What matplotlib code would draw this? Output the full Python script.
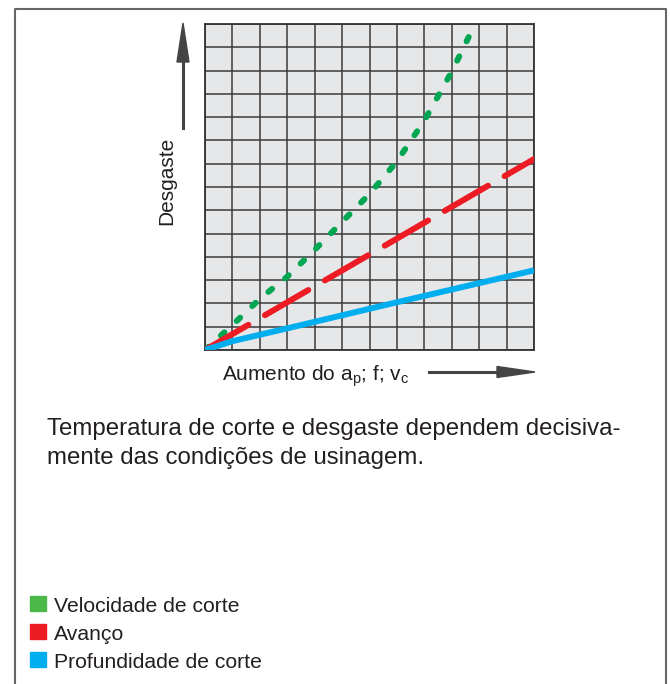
import matplotlib.pyplot as plt
from matplotlib.patches import Polygon, Rectangle
from matplotlib.lines import Line2D

plt.rcParams['font.family'] = ['Liberation Sans', 'DejaVu Sans']
plt.rcParams['mathtext.fontset'] = 'custom'
plt.rcParams['mathtext.rm'] = 'Liberation Sans'

# dados (unidades de grade: 12 colunas x 14 linhas)
x_vel = [0, 1, 2, 3, 4, 5, 6, 7, 8, 9, 9.85]
y_vel = [0, 1.07, 2.2, 3.15, 4.3, 5.5, 6.7, 8.1, 9.85, 11.95, 14.0]
x_av = [0, 12]
y_av = [0, 8.2]
x_prof = [0, 1, 3, 7, 12]
y_prof = [0, 0.38, 0.93, 2.05, 3.42]

legend_labels = ['Velocidade de corte', 'Avanço', 'Profundidade de corte']
legend_colors = ['#4cb848', '#ed1c24', '#00aeef']
texto = ['Temperatura de corte e desgaste dependem decisiva-',
         'mente das condições de usinagem.']

W, H = 670, 684
fig = plt.figure(figsize=(W / 100, H / 100), dpi=100)


def fx(px):
    return px / W


def fy(py):
    return 1 - py / H


# moldura (aberta embaixo)
fig.add_artist(Line2D([fx(15), fx(15), fx(666), fx(666)],
                      [0, fy(8.5), fy(8.5), 0], color='#666666', lw=1.5,
                      transform=fig.transFigure))

ax = fig.add_axes([fx(205), fy(350), fx(534) - fx(205), fy(24) - fy(350)])
ax.set_facecolor('#e6e7e8')
ax.set_xlim(0, 12)
ax.set_ylim(0, 14)
ax.set_xticks(range(13))
ax.set_yticks(range(15))
ax.tick_params(length=0, labelbottom=False, labelleft=False)
ax.grid(True, color='#3a3a3a', lw=1.1)
ax.set_axisbelow(True)
for s in ax.spines.values():
    s.set_color('#333333')
    s.set_linewidth(1.3)

lw = 4.3
ax.plot(x_vel, y_vel, color='#00a651', lw=lw, linestyle=(0, (0.8, 2.8)),
        dash_capstyle='round', zorder=3)
ax.plot(x_av, y_av, color='#ed1c24', lw=lw, linestyle=(0, (8.4, 3.2)),
        dash_capstyle='round', zorder=4)
ax.plot(x_prof, y_prof, color='#00aeef', lw=lw, solid_capstyle='butt', zorder=5)

# setas dos eixos
seta = '#444444'
fig.add_artist(Line2D([fx(183), fx(183)], [fy(128), fy(58)], color=seta, lw=2.2,
                      transform=fig.transFigure))
fig.add_artist(Polygon([[fx(183), fy(23)], [fx(177), fy(62)], [fx(189), fy(62)]],
                       closed=True, color=seta, transform=fig.transFigure))
fig.add_artist(Line2D([fx(429), fx(500)], [fy(372), fy(372)], color=seta, lw=2.2,
                      transform=fig.transFigure))
fig.add_artist(Polygon([[fx(535), fy(372)], [fx(497), fy(366.5)], [fx(497), fy(377.5)]],
                       closed=True, color=seta, transform=fig.transFigure))

fig.text(fx(167), fy(181), 'Desgaste', rotation=90, fontsize=15,
         ha='center', va='center', color='#231f20')
fig.text(fx(222), fy(380), r'Aumento do a$_\mathregular{p}$; f; v$_\mathregular{c}$',
         fontsize=15, ha='left', va='baseline', color='#231f20')

fig.text(fx(47), fy(435), texto[0], fontsize=17.3, ha='left', va='baseline', color='#231f20')
fig.text(fx(47), fy(464), texto[1], fontsize=17.3, ha='left', va='baseline', color='#231f20')

# legenda
for i, (lab, col) in enumerate(zip(legend_labels, legend_colors)):
    top = 596 + i * 28
    fig.add_artist(Rectangle((fx(30), fy(top + 15)), fx(16), 15 / H, color=col,
                             transform=fig.transFigure))
    fig.text(fx(54), fy(top + 16), lab, fontsize=15.2, ha='left', va='baseline',
             color='#231f20')

fig.savefig('out.png', dpi=100)
